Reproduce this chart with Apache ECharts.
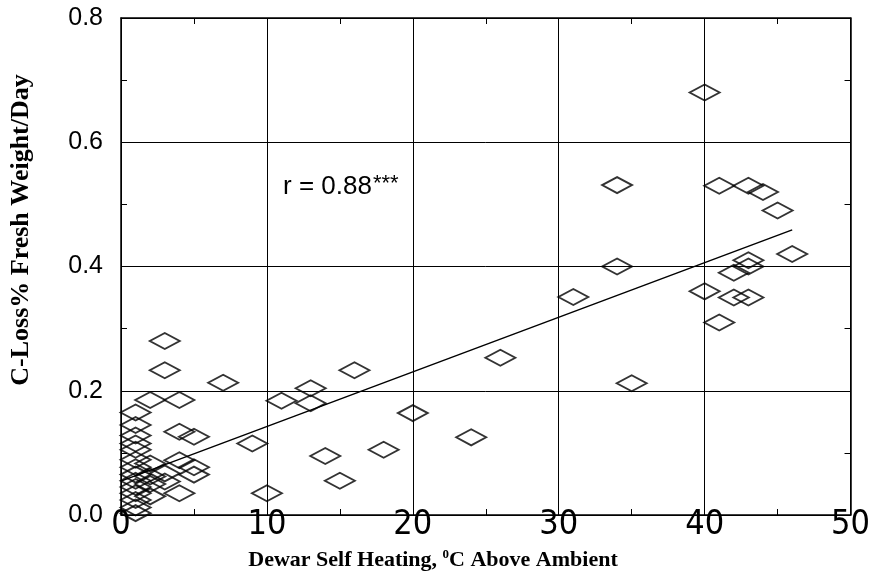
<!DOCTYPE html>
<html>
<head>
<meta charset="utf-8">
<script src="https://cdn.jsdelivr.net/npm/echarts@6/dist/echarts.min.js"></script>
<style>
html,body{margin:0;padding:0;background:#fff;}
#chart{width:873px;height:576px;}
</style>
</head>
<body>
<div id="chart"></div>
<script>
// Observed points: Dewar self heating (°C above ambient) vs C-loss % fresh weight/day
const heatX = [
  1, 1, 1, 1, 1, 1, 1, 1, 1, 1, 1, 1, 1, 1,
  2, 2, 2, 2, 2,
  3, 3, 3, 3,
  4, 4, 4, 4,
  5, 5, 5,
  7, 9, 10, 11, 13, 13, 14, 15, 16, 18, 20, 24, 26,
  31, 34, 34, 35, 40, 40, 41, 41, 42, 42, 43, 43, 43, 43, 44, 45, 46
];
const lossY = [
  0.165, 0.145, 0.128, 0.115, 0.105, 0.089, 0.077, 0.065, 0.055, 0.045, 0.035, 0.024, 0.012, 0.003,
  0.185, 0.083, 0.062, 0.050, 0.030,
  0.280, 0.233, 0.067, 0.054,
  0.185, 0.134, 0.088, 0.035,
  0.126, 0.077, 0.065,
  0.213, 0.115, 0.035, 0.184, 0.204, 0.180, 0.095, 0.055, 0.233, 0.105, 0.164, 0.125, 0.253,
  0.351, 0.531, 0.400, 0.212, 0.680, 0.360, 0.530, 0.310, 0.390, 0.350, 0.530, 0.410, 0.400, 0.350, 0.520, 0.490, 0.420
];
// Regression line end points
const fitX = [0, 46];
const fitY = [0.0546, 0.459];

const xTicks = [0, 10, 20, 30, 40, 50];
const yTicks = ['0.0', '0.2', '0.4', '0.6', '0.8'];
const annotation = 'r = 0.88';

const points = heatX.map((x, i) => [x, lossY[i]]);
const fitLine = fitX.map((x, i) => [x, fitY[i]]);

const chart = echarts.init(document.getElementById('chart'), null, {renderer: 'canvas'});
const black = '#000';
const minorTick = {show: true, splitNumber: 2, length: 6, lineStyle: {color: black, width: 1}};

chart.setOption({
  animation: false,
  backgroundColor: '#fff',
  grid: {left: 121, right: 18, top: 18, bottom: 61, containLabel: false},
  xAxis: [
    {
      type: 'value', min: 0, max: 50, interval: 10, position: 'bottom',
      axisLine: {show: true, onZero: false, lineStyle: {color: black, width: 1.5}},
      axisTick: {show: true, inside: true, length: 6, lineStyle: {color: black}},
      minorTick: minorTick,
      splitLine: {show: true, lineStyle: {color: black, width: 1}},
      axisLabel: {
        show: true, margin: -7, color: black,
        fontFamily: "'Liberation Sans Narrow', 'DejaVu Sans Condensed', sans-serif",
        fontSize: 34, showMinLabel: true, showMaxLabel: true,
        formatter: v => (xTicks.includes(v) ? String(v) : '')
      }
    },
    {
      type: 'value', min: 0, max: 50, interval: 10, position: 'top',
      axisLine: {show: true, onZero: false, lineStyle: {color: black, width: 1.5}},
      axisTick: {show: false, inside: true},
      minorTick: minorTick,
      splitLine: {show: false},
      axisLabel: {show: false}
    }
  ],
  yAxis: [
    {
      type: 'value', min: 0, max: 0.8, interval: 0.2, position: 'left',
      axisLine: {show: true, onZero: false, lineStyle: {color: black, width: 1.5}},
      axisTick: {show: true, inside: true, length: 6, lineStyle: {color: black}},
      minorTick: minorTick,
      splitLine: {show: true, lineStyle: {color: black, width: 1}},
      axisLabel: {
        show: true, margin: 18, color: black,
        fontFamily: "'Liberation Sans', Arial, sans-serif", fontSize: 25,
        showMinLabel: true, showMaxLabel: true,
        formatter: v => yTicks[Math.round(v / 0.2)]
      }
    },
    {
      type: 'value', min: 0, max: 0.8, interval: 0.2, position: 'right',
      axisLine: {show: true, onZero: false, lineStyle: {color: black, width: 1.5}},
      axisTick: {show: false, inside: true},
      minorTick: minorTick,
      splitLine: {show: false},
      axisLabel: {show: false}
    }
  ],
  series: [
    {
      type: 'line', xAxisIndex: 0, yAxisIndex: 0,
      data: fitLine, symbol: 'none', silent: true,
      lineStyle: {color: black, width: 1.5}, z: 2
    },
    {
      type: 'scatter', xAxisIndex: 0, yAxisIndex: 0,
      data: points, symbol: 'diamond', symbolSize: [30, 16],
      itemStyle: {color: 'rgba(255,255,255,0)', borderColor: black, borderWidth: 2},
      z: 3
    }
  ],
  graphic: [
    {
      type: 'text', x: 283, y: 187,
      style: {
        text: '{a|' + annotation + '}{s|***}',
        verticalAlign: 'middle',
        rich: {
          a: {fontFamily: "'Liberation Sans', Arial, sans-serif", fontSize: 26, fill: black, verticalAlign: 'middle'},
          s: {fontFamily: "'Liberation Sans', Arial, sans-serif", fontSize: 22, fill: black, verticalAlign: 'middle', padding: [0,0,6,1]}
        }
      }
    },
    {
      type: 'text', x: 433, y: 560,
      style: {
        text: '{t|Dewar Self Heating, }{u|0}{t|C Above Ambient}',
        align: 'center', verticalAlign: 'middle',
        rich: {
          t: {fontFamily: "'Liberation Serif', 'Times New Roman', serif", fontWeight: 'bold', fontSize: 22, fill: black},
          u: {fontFamily: "'Liberation Serif', 'Times New Roman', serif", fontWeight: 'bold', fontSize: 13, fill: black, padding: [0,0,10,0]}
        }
      }
    },
    {
      type: 'text', x: 21, y: 230, rotation: Math.PI / 2,
      style: {
        text: 'C-Loss% Fresh Weight/Day',
        align: 'center', verticalAlign: 'middle',
        fontFamily: "'Liberation Serif', 'Times New Roman', serif", fontWeight: 'bold', fontSize: 26, fill: black
      }
    }
  ]
});
</script>
</body>
</html>
